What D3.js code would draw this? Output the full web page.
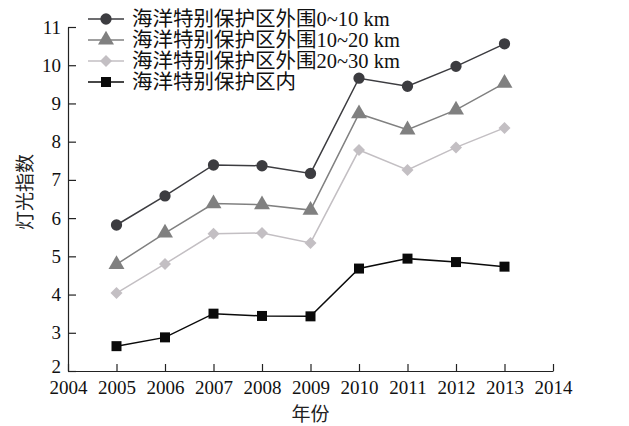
<!DOCTYPE html>
<meta charset="utf-8">
<script src="https://d3js.org/d3.v7.min.js"></script>
<style>
  body { margin: 0; background: #fff; }
  text { font-family: "Liberation Serif", "Noto Sans CJK SC", serif; }
</style>
<div id="my_dataviz"></div>
<script>
// data
var years = [2005, 2006, 2007, 2008, 2009, 2010, 2011, 2012, 2013];
var xTicks = [2004, 2005, 2006, 2007, 2008, 2009, 2010, 2011, 2012, 2013, 2014];
var yTicks = [2, 3, 4, 5, 6, 7, 8, 9, 10, 11];
var seriesNames = ["海洋特别保护区外围0~10 km", "海洋特别保护区外围10~20 km", "海洋特别保护区外围20~30 km", "海洋特别保护区内"];
var ring0to10 = [5.82, 6.58, 7.39, 7.37, 7.17, 9.66, 9.45, 9.97, 10.56];
var ring10to20 = [4.79, 5.61, 6.38, 6.35, 6.21, 8.73, 8.31, 8.83, 9.53];
var ring20to30 = [4.04, 4.80, 5.59, 5.61, 5.35, 7.78, 7.26, 7.85, 8.36];
var inside = [2.65, 2.88, 3.50, 3.44, 3.43, 4.68, 4.94, 4.85, 4.73];

var allSeries = [ring0to10, ring10to20, ring20to30, inside];
var colors = ["#3c3c40", "#808080", "#c3bfc3", "#0a0a0a"];
var symbols = [d3.symbolCircle, d3.symbolTriangle, d3.symbolSquare, d3.symbolSquare];
var symSizes = [100, 110, 72, 100];
var symRotate = [0, 0, 45, 0];

var margin = {top: 27, right: 76, bottom: 55, left: 68},
    width = 629 - margin.left - margin.right,
    height = 426 - margin.top - margin.bottom;

var svg = d3.select("#my_dataviz")
  .append("svg")
    .attr("width", 629)
    .attr("height", 426)
  .append("g")
    .attr("transform", "translate(" + margin.left + "," + margin.top + ")");

var x = d3.scaleLinear().domain([2004, 2014]).range([0, width]);
var y = d3.scaleLinear().domain([2, 11]).range([height, 0]);

// X axis
var gx = svg.append("g")
  .attr("transform", "translate(0," + height + ")")
  .call(d3.axisBottom(x).tickValues(xTicks).tickFormat(d3.format("d")).tickSizeInner(-7).tickSizeOuter(0).tickPadding(5));
gx.selectAll("text").attr("font-size", 19).attr("fill", "#111").attr("dy", "0.95em");

// Y axis
var gy = svg.append("g")
  .call(d3.axisLeft(y).tickValues(yTicks).tickSizeInner(-8).tickSizeOuter(0).tickPadding(7));
gy.selectAll("text").attr("font-size", 19).attr("fill", "#111");
gy.selectAll(".tick").filter(function(d) { return d === 2; }).select("text").attr("dy", "0.1em");

svg.selectAll(".domain, .tick line").attr("stroke", "#222").attr("stroke-width", 1.2);

// axis titles
svg.append("text")
  .attr("x", width / 2)
  .attr("y", height + 50)
  .attr("text-anchor", "middle")
  .attr("font-size", 19)
  .attr("fill", "#222")
  .text("年份");

svg.append("text")
  .attr("transform", "translate(" + (-36) + "," + (165) + ") rotate(-90)")
  .attr("text-anchor", "middle")
  .attr("font-size", 19)
  .attr("fill", "#222")
  .text("灯光指数");

// lines and markers
var line = d3.line()
  .x(function(d, i) { return x(years[i]); })
  .y(function(d) { return y(d); });

allSeries.forEach(function(vals, k) {
  svg.append("path")
    .datum(vals)
    .attr("fill", "none")
    .attr("stroke", colors[k])
    .attr("stroke-width", 1.5)
    .attr("d", line);

  svg.selectAll(".m" + k)
    .data(vals)
    .enter().append("path")
      .attr("class", "m" + k)
      .attr("transform", function(d, i) { return "translate(" + x(years[i]) + "," + y(d) + ") rotate(" + symRotate[k] + ")"; })
      .attr("d", d3.symbol().type(symbols[k]).size(symSizes[k]))
      .attr("fill", colors[k]);
});

// legend
var legend = svg.append("g").attr("transform", "translate(20,-8)");
seriesNames.forEach(function(name, k) {
  var row = legend.append("g").attr("transform", "translate(0," + (k * 21) + ")");
  row.append("line")
    .attr("x1", 0).attr("x2", 36)
    .attr("stroke", colors[k]).attr("stroke-width", 1.5);
  row.append("path")
    .attr("transform", "translate(18,0) rotate(" + symRotate[k] + ")")
    .attr("d", d3.symbol().type(symbols[k]).size(symSizes[k]))
    .attr("fill", colors[k]);
  row.append("text")
    .attr("x", 44)
    .attr("dy", "0.35em")
    .attr("font-size", 20.5)
    .attr("fill", "#111")
    .text(name);
});
</script>
